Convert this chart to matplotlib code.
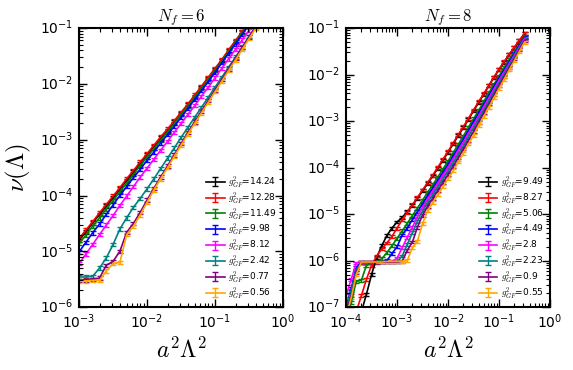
import matplotlib
matplotlib.use('Agg')
import matplotlib.pyplot as plt
import numpy as np

plt.style.use('classic')
plt.rcParams['figure.facecolor'] = 'white'
plt.rcParams['savefig.facecolor'] = 'white'
plt.rcParams['mathtext.fontset'] = 'cm'
plt.rcParams['axes.linewidth'] = 1.5

# x values a^2 Lambda^2
x_nf6 = [1.00e-3, 1.26e-3, 1.58e-3, 2.00e-3, 2.51e-3, 3.16e-3, 3.98e-3, 5.01e-3, 6.31e-3, 7.94e-3,
         1.00e-2, 1.26e-2, 1.58e-2, 2.00e-2, 2.51e-2, 3.16e-2, 3.98e-2, 5.01e-2, 6.31e-2, 7.94e-2,
         1.00e-1, 1.26e-1, 1.58e-1, 2.00e-1, 2.51e-1, 3.16e-1, 3.98e-1]
x_nf8 = [1.00e-4, 1.26e-4, 1.58e-4, 2.00e-4, 2.51e-4, 3.16e-4, 3.98e-4, 5.01e-4, 6.31e-4, 7.94e-4,
         1.00e-3, 1.26e-3, 1.58e-3, 2.00e-3, 2.51e-3, 3.16e-3, 3.98e-3, 5.01e-3, 6.31e-3, 7.94e-3,
         1.00e-2, 1.26e-2, 1.58e-2, 2.00e-2, 2.51e-2, 3.16e-2, 3.98e-2, 5.01e-2, 6.31e-2, 7.94e-2,
         1.00e-1, 1.26e-1, 1.58e-1, 2.00e-1, 2.51e-1, 3.16e-1]

# log10 of nu(Lambda), Nf = 6
nf6_1424 = [-4.80, -4.65, -4.49, -4.34, -4.19, -4.04, -3.88, -3.73, -3.58, -3.42, -3.27, -3.12, -2.97, -2.83,
            -2.68, -2.53, -2.38, -2.22, -2.06, -1.90, -1.74, -1.58, -1.41, -1.24, -1.07, -0.90, -0.73]
nf6_1228 = [-4.77, -4.62, -4.47, -4.31, -4.16, -4.01, -3.86, -3.70, -3.55, -3.40, -3.25, -3.10, -2.95, -2.81,
            -2.66, -2.51, -2.36, -2.20, -2.04, -1.88, -1.72, -1.56, -1.39, -1.22, -1.06, -0.89, -0.72]
nf6_1149 = [-4.86, -4.71, -4.55, -4.40, -4.24, -4.09, -3.93, -3.78, -3.62, -3.46, -3.31, -3.16, -3.01, -2.86,
            -2.71, -2.55, -2.40, -2.24, -2.08, -1.92, -1.76, -1.59, -1.42, -1.25, -1.08, -0.91, -0.74]
nf6_998 = [-5.01, -4.84, -4.67, -4.51, -4.34, -4.17, -4.00, -3.84, -3.68, -3.53, -3.37, -3.22, -3.06, -2.91,
           -2.76, -2.60, -2.44, -2.28, -2.12, -1.96, -1.79, -1.62, -1.45, -1.28, -1.11, -0.94, -0.77]
nf6_812 = [-5.22, -5.05, -4.88, -4.70, -4.53, -4.36, -4.18, -4.01, -3.84, -3.67, -3.51, -3.35, -3.19, -3.03,
           -2.87, -2.71, -2.55, -2.39, -2.22, -2.06, -1.89, -1.72, -1.55, -1.38, -1.21, -1.04, -0.87]
nf6_242 = [-5.46, -5.46, -5.45, -5.30, -5.12, -4.88, -4.60, -4.40, -4.21, -4.05, -3.88, -3.70, -3.52, -3.33,
           -3.15, -2.96, -2.78, -2.60, -2.42, -2.24, -2.06, -1.88, -1.70, -1.52, -1.34, -1.15, -0.97]
nf6_077 = [-5.52, -5.51, -5.50, -5.48, -5.25, -5.18, -5.00, -4.66, -4.50, -4.30, -4.08, -3.87, -3.67, -3.47,
           -3.27, -3.07, -2.87, -2.68, -2.49, -2.30, -2.11, -1.92, -1.73, -1.54, -1.35, -1.16, -0.97]
nf6_056 = [-5.53, -5.53, -5.52, -5.52, -5.35, -5.22, -5.20, -4.70, -4.55, -4.35, -4.12, -3.90, -3.70, -3.50,
           -3.30, -3.10, -2.90, -2.71, -2.52, -2.33, -2.14, -1.95, -1.76, -1.57, -1.38, -1.19, -1.00]

# log10 of nu(Lambda), Nf = 8
nf8_949 = [-8.20, -7.80, -7.45, -7.10, -6.72, -6.30, -5.93, -5.68, -5.46, -5.30, -5.17, -5.07, -4.95, -4.81,
           -4.66, -4.50, -4.34, -4.18, -4.01, -3.84, -3.67, -3.49, -3.31, -3.14, -2.96, -2.78, -2.60, -2.42,
           -2.24, -2.06, -1.89, -1.73, -1.57, -1.42, -1.27, -1.12]
nf8_827 = [-7.80, -7.40, -7.10, -6.75, -6.40, -6.10, -5.90, -5.75, -5.62, -5.48, -5.30, -5.12, -4.96, -4.80,
           -4.64, -4.48, -4.32, -4.16, -3.99, -3.82, -3.65, -3.47, -3.29, -3.12, -2.94, -2.76, -2.58, -2.41,
           -2.23, -2.05, -1.88, -1.72, -1.56, -1.41, -1.26, -1.11]
nf8_506 = [-7.30, -6.90, -6.45, -6.42, -6.10, -6.03, -6.03, -5.96, -5.83, -5.68, -5.52, -5.36, -5.20, -5.03,
           -4.87, -4.70, -4.53, -4.37, -4.20, -4.03, -3.86, -3.68, -3.50, -3.32, -3.13, -2.95, -2.77, -2.58,
           -2.39, -2.21, -2.03, -1.85, -1.68, -1.51, -1.35, -1.18]
nf8_449 = [-7.00, -6.60, -6.15, -6.04, -6.04, -6.03, -6.03, -6.03, -6.00, -5.85, -5.70, -5.45, -5.30, -5.12,
           -4.95, -4.78, -4.60, -4.44, -4.27, -4.10, -3.93, -3.75, -3.57, -3.39, -3.20, -3.01, -2.83, -2.64,
           -2.45, -2.26, -2.07, -1.90, -1.72, -1.55, -1.37, -1.20]
nf8_28 = [-6.75, -6.40, -6.05, -6.03, -6.03, -6.03, -6.03, -6.03, -6.03, -6.02, -5.95, -5.72, -5.50, -5.28,
          -5.05, -4.85, -4.67, -4.50, -4.33, -4.16, -3.99, -3.81, -3.63, -3.45, -3.26, -3.08, -2.89, -2.69,
          -2.50, -2.31, -2.12, -1.94, -1.76, -1.58, -1.40, -1.22]
nf8_223 = [-7.00, -6.65, -6.20, -6.04, -6.04, -6.04, -6.03, -6.03, -6.03, -6.03, -6.02, -5.90, -5.65, -5.40,
           -5.15, -4.93, -4.75, -4.58, -4.41, -4.24, -4.07, -3.89, -3.71, -3.53, -3.33, -3.14, -2.95, -2.76,
           -2.56, -2.37, -2.18, -1.99, -1.80, -1.62, -1.43, -1.25]
nf8_09 = [-7.10, -6.75, -6.25, -6.04, -6.04, -6.04, -6.04, -6.03, -6.03, -6.03, -6.03, -6.01, -5.78, -5.60,
          -5.28, -5.02, -4.83, -4.66, -4.49, -4.32, -4.15, -3.97, -3.79, -3.60, -3.41, -3.22, -3.02, -2.82,
          -2.63, -2.43, -2.23, -2.04, -1.85, -1.66, -1.46, -1.27]
nf8_055 = [-7.20, -6.80, -6.30, -6.03, -6.03, -6.03, -6.03, -6.03, -6.02, -6.02, -6.02, -6.01, -6.00, -5.72,
           -5.58, -5.20, -4.92, -4.75, -4.58, -4.41, -4.24, -4.07, -3.88, -3.69, -3.49, -3.30, -3.10, -2.90,
           -2.70, -2.50, -2.30, -2.10, -1.90, -1.70, -1.50, -1.30]

g2_nf6 = ['14.24', '12.28', '11.49', '9.98', '8.12', '2.42', '0.77', '0.56']
g2_nf8 = ['9.49', '8.27', '5.06', '4.49', '2.8', '2.23', '0.9', '0.55']
series_nf6 = [nf6_1424, nf6_1228, nf6_1149, nf6_998, nf6_812, nf6_242, nf6_077, nf6_056]
series_nf8 = [nf8_949, nf8_827, nf8_506, nf8_449, nf8_28, nf8_223, nf8_09, nf8_055]
rel_err = 0.07

colors = ['black', 'red', 'green', 'blue', 'magenta', 'teal', 'purple', 'orange']

fig = plt.figure(figsize=(5.73, 3.70), dpi=100)
ax1 = fig.add_axes([0.138, 0.170, 0.356, 0.754])
ax2 = fig.add_axes([0.604, 0.170, 0.356, 0.754])

for ax, xs, all_series, labels in [(ax1, x_nf6, series_nf6, g2_nf6), (ax2, x_nf8, series_nf8, g2_nf8)]:
    for logy, lab, c in zip(all_series, labels, colors):
        y = 10 ** np.array(logy)
        ax.errorbar(xs, y, yerr=rel_err * y, color=c, lw=1.2, elinewidth=1.0,
                    capsize=2.5, capthick=1.0, label=r'$g^2_{GF}$=' + lab)
    ax.set_xscale('log')
    ax.set_yscale('log')
    ax.set_xlabel(r'$a^2\Lambda^2$', fontsize=17)
    ax.tick_params(labelsize=10)
    ax.tick_params(which='major', length=6, width=1)
    ax.tick_params(which='minor', length=3, width=0.8)
    ax.legend(loc='lower right', frameon=False, fontsize=6.5, numpoints=1,
              handlelength=2.0, labelspacing=0.0, borderaxespad=0.3, handletextpad=0.4)

ax1.set_xlim(1e-3, 1)
ax1.set_ylim(1e-6, 1e-1)
ax1.set_title(r'$N_f=6$', fontsize=12)
ax1.set_ylabel(r'$\nu(\Lambda)$', fontsize=18)

ax2.set_xlim(1e-4, 1)
ax2.set_ylim(1e-7, 1e-1)
ax2.set_title(r'$N_f=8$', fontsize=12)

fig.savefig('out.png', dpi=100)
